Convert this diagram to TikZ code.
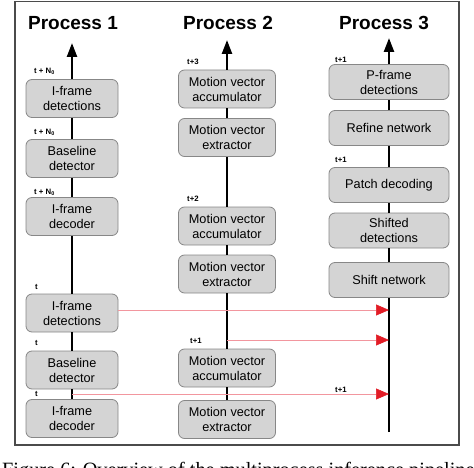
\documentclass[tikz,border=0pt]{standalone}
\usepackage{fontspec}
\setmainfont{Liberation Sans}
\newfontfamily\capfont{Liberation Serif}
\usepackage{tikz}
\usetikzlibrary{arrows.meta}
\definecolor{BoxFill}{RGB}{212,212,212}
\definecolor{BoxLine}{RGB}{135,135,135}
\definecolor{FrameGray}{RGB}{75,75,75}
\definecolor{LinkRed}{RGB}{242,150,158}
\definecolor{TipRed}{RGB}{226,28,38}
\tikzset{
  blk/.style={draw=BoxLine, fill=BoxFill, rounded corners=6pt, line width=0.8pt, align=center, inner sep=0pt, minimum height=38pt, font=\fontsize{12.7}{15}\selectfont},
  blkA/.style={blk, minimum width=92pt},
  blkB/.style={blk, minimum width=97pt},
  blkC/.style={blk, minimum width=120pt, minimum height=35pt},
  stamp/.style={anchor=base west, inner sep=0pt, font=\fontsize{7.8}{9}\selectfont\bfseries},
  heading/.style={anchor=base, inner sep=0pt, font=\fontsize{19}{22}\selectfont\bfseries},
  track/.style={line width=2.4pt},
  flow/.style={track, -{Triangle[length=14pt,width=10pt]}},
  link/.style={draw=LinkRed, line width=0.6pt, -{Triangle[length=13pt,width=11pt,color=TipRed]}},
}
\begin{document}
\begin{tikzpicture}[x=1pt,y=1pt,yscale=-1,xscale=1]
\useasboundingbox (0,0) rectangle (474,468);

%Shape: Rectangle
\draw [draw=FrameGray, line width=1.4pt] (15,1.5) rectangle (459,445);

% Text Node
\node [heading] (h1) at (73,29.5) {Process 1};
\node [heading] (h2) at (228,29.5) {Process 2};
\node [heading] (h3) at (384,29.5) {Process 3};

%Process 1 blocks
\node [blkA] (p1a) at (72,98.5) {I-frame\\detections};
\node [blkA] (p1b) at (72,158.5) {Baseline\\detector};
\node [blkA] (p1c) at (72,216.5) {I-frame\\decoder};
\node [blkA] (p1d) at (72,313) {I-frame\\detections};
\node [blkA] (p1e) at (72,370) {Baseline\\detector};
\node [blkA] (p1f) at (72,418.5) {I-frame\\decoder};
\coordinate (p1tip) at (72,43);

%Process 2 blocks
\node [blkB] (p2a) at (227,89) {Motion vector\\accumulator};
\node [blkB] (p2b) at (227,137.5) {Motion vector\\extractor};
\node [blkB] (p2c) at (227,226) {Motion vector\\accumulator};
\node [blkB] (p2d) at (227,274) {Motion vector\\extractor};
\node [blkB] (p2e) at (227,368) {Motion vector\\accumulator};
\node [blkB] (p2f) at (227,419.5) {Motion vector\\extractor};
\coordinate (p2tip) at (227,40);

%Process 3 blocks
\node [blkC] (p3a) at (389,82) {P-frame\\detections};
\node [blkC] (p3b) at (389,128) {Refine network};
\node [blkC] (p3c) at (389,185) {Patch decoding};
\node [blkC] (p3d) at (389,230.5) {Shifted\\detections};
\node [blkC] (p3e) at (389,280) {Shift network};
\coordinate (p3tip) at (389,38);
\coordinate (p3bot) at (389,432);

%Straight Lines
\foreach \lo/\hi in {p1f/p1e,p1e/p1d,p1d/p1c,p1c/p1b,p1b/p1a,
                     p2f/p2e,p2e/p2d,p2d/p2c,p2c/p2b,p2b/p2a,
                     p3e/p3d,p3d/p3c,p3c/p3b,p3b/p3a}
  \draw [track] (\lo) -- (\hi);
\draw [track] (p3bot) -- (p3e);
\draw [flow] (p1a) -- (p1tip);
\draw [flow] (p2a) -- (p2tip);
\draw [flow] (p3a) -- (p3tip);

%Straight Lines
\coordinate (r1) at (389,310);
\coordinate (s2) at (227,340);
\coordinate (r2) at (389,340);
\coordinate (s3) at (72,394);
\coordinate (r3) at (389,394);
\draw [link] (p1d.east |- r1) -- (r1);
\draw [link] (s2) -- (r2);
\draw [link] (s3) -- (r3);

% Text Node
\node [stamp] (n1) at (34,73.5) {t + N\textsubscript{0}};
\node [stamp] (n2) at (34,134.5) {t + N\textsubscript{0}};
\node [stamp] (n3) at (34,194.5) {t + N\textsubscript{0}};
\node [stamp] (n4) at (35,289.5) {t};
\node [stamp] (n5) at (35,345.5) {t};
\node [stamp] (n6) at (35,396.5) {t};
% Text Node
\node [stamp] (m1) at (187,64.5) {t+3};
\node [stamp] (m2) at (187,201.5) {t+2};
\node [stamp] (m3) at (190,343.5) {t+1};
% Text Node
\node [stamp] (q1) at (335,62.5) {t+1};
\node [stamp] (q2) at (335,162.5) {t+1};
\node [stamp] (q3) at (335,392) {t+1};

% Text Node
\node [anchor=base west, inner sep=0pt, font=\capfont\fontsize{20.3}{24}\selectfont] (cap) at (2,476) {Figure 6: Overview of the multiprocess inference pipeline};

\end{tikzpicture}
\end{document}
